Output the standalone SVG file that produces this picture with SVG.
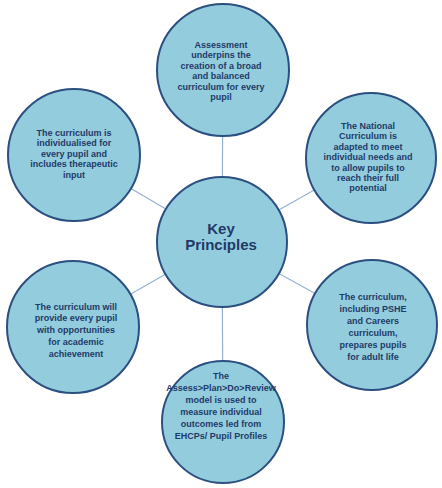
<svg xmlns="http://www.w3.org/2000/svg" width="442" height="488" viewBox="0 0 442 488">
<style>
.c{fill:#93cddd;stroke:#2b4f81;stroke-width:2}
.t{font-family:"Liberation Sans",Arial,sans-serif;font-weight:bold;font-size:9px;fill:#1f3a68;text-anchor:middle}
.k{font-family:"Liberation Sans",Arial,sans-serif;font-weight:bold;font-size:15px;fill:#1f3a68;text-anchor:middle}
.l{stroke:#93b3d3;stroke-width:1.2;fill:none}
</style>
<rect width="442" height="488" fill="#ffffff"/>
<g id="connectors">
<line class="l" x1="222" y1="242" x2="223" y2="70"/>
<line class="l" x1="222" y1="242" x2="74" y2="155"/>
<line class="l" x1="222" y1="242" x2="371" y2="158"/>
<line class="l" x1="222" y1="242" x2="73" y2="327"/>
<line class="l" x1="222" y1="242" x2="372" y2="325"/>
<line class="l" x1="222" y1="242" x2="223" y2="422"/>
</g>
<g id="top">
<circle class="c" cx="223" cy="70" r="66"/>
<text class="t"><tspan x="221" y="47.6">Assessment</tspan><tspan x="221" y="58.1">underpins the</tspan><tspan x="221" y="68.6">creation of a broad</tspan><tspan x="221" y="79.1">and balanced</tspan><tspan x="221" y="89.6">curriculum for every</tspan><tspan x="221" y="100.1">pupil</tspan></text>
</g>
<g id="upper-left">
<circle class="c" cx="74" cy="155" r="66"/>
<text class="t"><tspan x="74" y="136">The curriculum is</tspan><tspan x="74" y="146.4">individualised for</tspan><tspan x="74" y="156.8">every pupil and</tspan><tspan x="74" y="167.2">includes therapeutic</tspan><tspan x="74" y="177.6">input</tspan></text>
</g>
<g id="upper-right">
<circle class="c" cx="371" cy="158" r="65"/>
<text class="t"><tspan x="368" y="129">The National</tspan><tspan x="368" y="139.4">Curriculum is</tspan><tspan x="368" y="149.8">adapted to meet</tspan><tspan x="368" y="160.2">individual needs and</tspan><tspan x="368" y="170.6">to allow pupils to</tspan><tspan x="368" y="181">reach their full</tspan><tspan x="368" y="191.4">potential</tspan></text>
</g>
<g id="center">
<circle class="c" cx="222" cy="242" r="65"/>
<text class="k"><tspan x="221" y="234">Key</tspan><tspan x="221" y="250">Principles</tspan></text>
</g>
<g id="lower-left">
<circle class="c" cx="73" cy="327" r="66"/>
<text class="t"><tspan x="76" y="309.5">The curriculum will</tspan><tspan x="76" y="321.3">provide every pupil</tspan><tspan x="76" y="333">with opportunities</tspan><tspan x="76" y="344.7">for academic</tspan><tspan x="76" y="356.5">achievement</tspan></text>
</g>
<g id="lower-right">
<circle class="c" cx="372" cy="325" r="65"/>
<text class="t"><tspan x="373" y="299.5">The curriculum,</tspan><tspan x="373" y="311.5">including PSHE</tspan><tspan x="373" y="323.5">and Careers</tspan><tspan x="373" y="335.5">curriculum,</tspan><tspan x="373" y="347.5">prepares pupils</tspan><tspan x="373" y="359.5">for adult life</tspan></text>
</g>
<g id="bottom">
<circle class="c" cx="223" cy="422" r="61"/>
<text class="t"><tspan x="221" y="378.5">The</tspan><tspan x="221" y="390.5">Assess&gt;Plan&gt;Do&gt;Review</tspan><tspan x="221" y="402.5">model is used to</tspan><tspan x="221" y="414.5">measure individual</tspan><tspan x="221" y="426.5">outcomes led from</tspan><tspan x="221" y="438.5">EHCPs/ Pupil Profiles</tspan></text>
</g>
</svg>
